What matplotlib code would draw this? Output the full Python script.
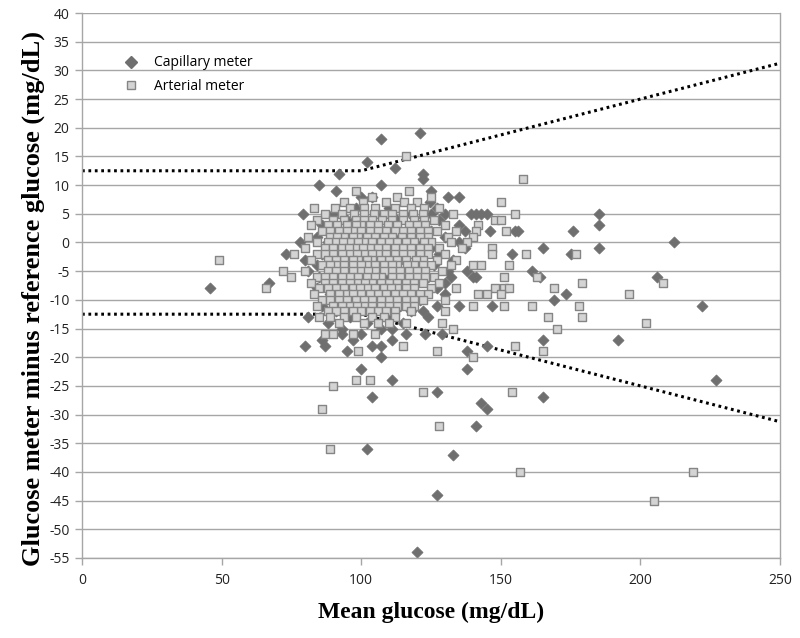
import matplotlib
matplotlib.use("Agg")
import matplotlib.pyplot as plt
from matplotlib.lines import Line2D

# ---------------- data ----------------
# Capillary meter (diamonds)
cap_x = [46, 67, 73, 78, 80, 81, 79, 85, 91, 92, 102, 100, 104, 107, 121, 112, 122, 122, 107,
         125, 124.5, 131, 135, 125, 139.5, 141, 143, 145, 137, 146, 155, 156, 176, 185, 185, 185,
         165, 137, 154, 175, 161, 164, 140, 141, 138, 132, 173.5, 169, 147, 135, 212, 206, 222,
         192, 227, 165, 165, 145, 143, 145, 141, 133, 127, 120, 102, 104, 111, 127, 100, 138,
         138, 129, 123, 122, 111, 104, 107, 107, 81, 80, 87, 95, 86, 93, 97, 100, 116, 111,
         98, 110, 127, 90, 105, 118, 130, 95, 113, 128, 86, 102, 121, 135, 90, 108, 125,
         84, 97, 114, 130, 88, 103, 120, 135, 92, 108, 125, 86, 100, 114, 128, 93, 107, 121, 133,
         84, 98, 112, 126, 90, 104, 118, 131, 85, 96, 110, 124, 92, 106, 119, 130,
         84, 99, 113, 127, 89, 103, 117, 130, 94, 108, 121, 86, 100, 114, 127, 91, 105, 118,
         96, 110, 124, 88, 102, 115, 93, 107]
cap_y = [-8, -7, -2, 0, -3, -5, 5, 10, 9, 12, 14, 8, 8, 18, 19, 13, 12, 11, 10,
         9, 7, 8, 8, 5, 5, 5, 5, 5, 2, 2, 2, 2, 2, 5, 3, -1,
         -1, -1, -2, -2, -5, -6, -6, -6, -5, -6, -9, -10, -11, -11, 0, -6, -11,
         -17, -24, -17, -27, -18, -28, -29, -32, -37, -44, -54, -36, -27, -24, -26, -22, -22,
         -19, -16, -16, -12, -17, -18, -18, -20, -13, -18, -18, -19, -17, -16, -17, -16, -16, -15,
         6, 6, 6, 5, 5, 5, 5, 4, 4, 4, 3, 3, 3, 3, 2, 2, 2,
         1, 1, 1, 1, 0, 0, 0, 0, -1, -1, -1, -2, -2, -2, -2, -3, -3, -3, -3,
         -4, -4, -4, -4, -5, -5, -5, -5, -6, -6, -6, -6, -7, -7, -7, -7,
         -8, -8, -8, -8, -9, -9, -9, -9, -10, -10, -10, -11, -11, -11, -11, -12, -12, -12,
         -13, -13, -13, -14, -14, -14, -15, -15]

# Arterial meter (squares): y value -> x values read row by row
art_rows = {
    15: [116], 11: [158],
    9: [117, 98],
    8: [104, 113, 125],
    7: [94, 109, 120, 150, 100.5, 115.5],
    6: [83, 96, 105, 112, 118, 128, 90.5, 101, 122.5],
    5: [87, 93, 101, 108, 115, 122, 133, 155, 97.5, 104.5, 111, 118.5],
    4: [84, 90, 98, 104, 111, 119, 126, 148, 150, 94, 101, 107.5, 115, 122.5],
    3: [82, 88, 95, 100, 106, 113, 117, 123, 130, 142, 91.5, 98, 103, 109.5, 120],
    2: [86, 92, 97, 103, 109, 115, 121, 127, 134, 141, 152, 89, 95, 100, 106, 112, 118, 124],
    1: [81, 89, 94, 99, 105, 111, 118, 124, 131, 140, 91.5, 97, 102, 108, 114.5, 121],
    0: [84, 91, 96, 101, 107, 113, 119, 125, 132, 138, 88, 93.5, 99, 104, 110, 116, 122.5],
    -1: [80, 87, 93, 98, 103, 109, 115, 121, 128, 136, 147, 90, 95.5, 100.5, 106, 112, 118, 124],
    -2: [76, 84, 90, 96, 101, 106, 112, 118, 124, 130, 147, 159, 177, 87, 93, 98.5, 104, 109,
         115, 121],
    -3: [49, 82, 88, 94, 99, 104, 110, 116, 122, 127, 134, 91, 97, 102, 107, 113, 119.5],
    -4: [86, 91, 97, 102, 108, 113, 119, 125, 132, 140, 143, 153, 89, 94, 100, 105, 111, 116.5,
         122],
    -5: [72, 80, 88, 94, 100, 105, 111, 117, 123, 129, 91, 97, 102.5, 108, 114, 120],
    -6: [75, 84, 90, 96, 102, 107, 114, 120, 126, 151, 163, 87, 93, 99, 105, 111, 117, 123],
    -7: [82, 87, 93, 99, 104, 110, 116, 122, 128, 179, 208, 90, 96, 101.5, 107, 113, 119],
    -8: [66, 85, 91, 97, 102, 108, 113, 119, 125, 134, 148, 151, 153, 169, 88, 94, 99.5, 105,
         110.5, 116],
    -9: [83, 89, 95, 100, 106, 112, 118, 124, 142, 145, 150, 196, 92, 97, 103, 109, 115, 121],
    -10: [86, 92, 98, 104, 110, 116, 122, 130, 89, 95, 101, 107, 113, 119],
    -11: [84, 90, 96, 101, 107, 113, 119, 140, 151, 161, 178, 93, 98.5, 104, 110, 116],
    -12: [88, 94, 100, 106, 112, 118, 130, 91, 97, 103, 109],
    -13: [85, 89, 98, 104, 108, 167, 179, 94, 112],
    -14: [92, 101, 110, 116, 129, 202, 106],
    -15: [133, 170],
    -16: [87, 90, 97, 105],
    -18: [115, 155],
    -19: [99, 127, 165],
    -20: [140],
    -24: [98, 103],
    -25: [90],
    -26: [122, 154],
    -29: [86],
    -32: [128],
    -36: [89],
    -40: [157, 219],
    -45: [205],
}
art_x = [x for y, xs in art_rows.items() for x in xs]
art_y = [y for y, xs in art_rows.items() for x in xs]

# accuracy limits (dotted lines)
lim_x = [0, 100, 250]
lim_upper = [12.5, 12.5, 31.25]
lim_lower = [-12.5, -12.5, -31.25]

x_ticks = [0, 50, 100, 150, 200, 250]
y_ticks = list(range(-55, 41, 5))

# ---------------- plot ----------------
fig = plt.figure(figsize=(8, 6.38), dpi=100)
ax = fig.add_axes([0.1025, 0.1254, 0.8725, 0.8542])

grid_c = "#a6a6a6"
for yv in y_ticks:
    ax.axhline(yv, color=grid_c, lw=1.0, zorder=0)

ax.plot(lim_x, lim_upper, color="black", lw=2.2, linestyle=(0, (0.9, 1.2)), zorder=1)
ax.plot(lim_x, lim_lower, color="black", lw=2.2, linestyle=(0, (0.9, 1.2)), zorder=1)

ax.scatter(cap_x, cap_y, marker="D", s=32, color="#6f6f6f", edgecolor="#6f6f6f",
           linewidths=0.5, zorder=2)
ax.scatter(art_x, art_y, marker="s", s=40, facecolor="#d4d4d4", edgecolor="#858585",
           linewidths=1.0, zorder=3)

ax.set_xlim(0, 250)
ax.set_ylim(-55, 40)
ax.set_xticks(x_ticks)
ax.set_yticks(y_ticks)

tick_font = {"family": "Open Sans", "size": 10}
ax.set_xticklabels([str(v) for v in x_ticks], fontdict=tick_font, color="#222222")
ax.set_yticklabels([str(v) for v in y_ticks], fontdict=tick_font, color="#222222")
ax.tick_params(axis="both", direction="out", length=5, color=grid_c, width=1)
ax.tick_params(axis="x", pad=6)
ax.tick_params(axis="y", pad=4)

for side in ["left", "bottom", "right"]:
    ax.spines[side].set_color(grid_c)
    ax.spines[side].set_linewidth(1.0)
ax.spines["top"].set_visible(False)

ax.set_xlabel("Mean glucose (mg/dL)", family="Liberation Serif", weight="bold",
              size=17, labelpad=10)
ax.set_ylabel("Glucose meter minus reference glucose (mg/dL)", family="Liberation Serif",
              weight="bold", size=19)
ax.yaxis.set_label_coords(-0.053, 0.477)

handles = [
    Line2D([], [], marker="D", linestyle="none", color="#6f6f6f", markersize=5.7,
           label="Capillary meter"),
    Line2D([], [], marker="s", linestyle="none", markerfacecolor="#d4d4d4",
           markeredgecolor="#858585", markersize=6.3, label="Arterial meter"),
]
leg = ax.legend(handles=handles, loc="upper left", bbox_to_anchor=(0.033, 0.945),
                frameon=False, prop={"family": "Open Sans", "size": 10},
                handletextpad=0.6, labelspacing=0.6)

fig.savefig("out.png", dpi=100)
